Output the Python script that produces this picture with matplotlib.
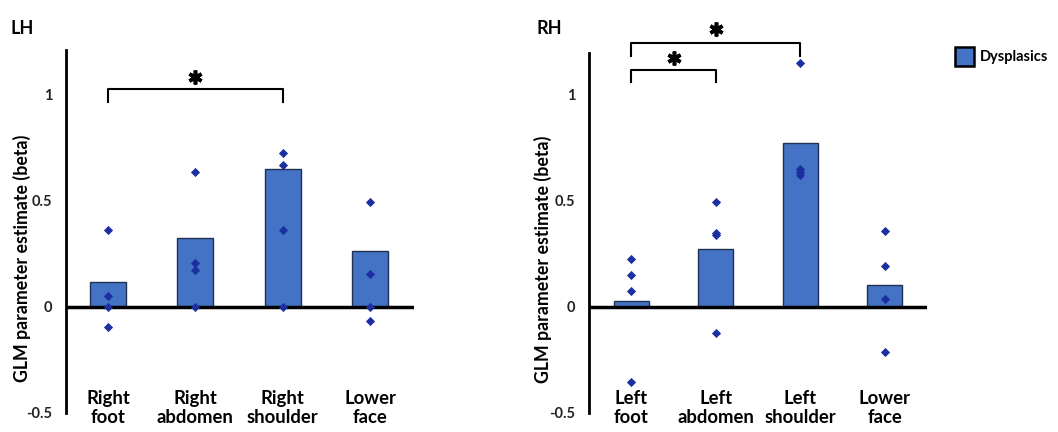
import matplotlib
matplotlib.use('Agg')
import matplotlib.pyplot as plt
from matplotlib.patches import Patch

plt.rcParams['font.family'] = ['Lato', 'DejaVu Sans']

# data
lh_labels = ['Right\nfoot', 'Right\nabdomen', 'Right\nshoulder', 'Lower\nface']
lh_means = [0.115, 0.324, 0.65, 0.264]
lh_points = [[0.363, 0.053, 0.0, -0.093],
             [0.635, 0.206, 0.175, 0.0],
             [0.725, 0.668, 0.36, 0.0],
             [0.494, 0.154, 0.0, -0.065]]

rh_labels = ['Left\nfoot', 'Left\nabdomen', 'Left\nshoulder', 'Lower\nface']
rh_means = [0.026, 0.275, 0.772, 0.104]
rh_points = [[0.225, 0.15, 0.077, -0.353],
             [0.497, 0.348, 0.34, -0.124],
             [1.15, 0.65, 0.623, 0.635],
             [0.36, 0.195, 0.04, -0.212]]

# brackets: (from, to, level, star level)
lh_sig = [(0, 2, 1.024, 1.085)]
rh_sig = [(0, 1, 1.12, 1.175), (0, 2, 1.244, 1.31)]

bar_col = '#4472C4'
edge_col = '#1F3050'
pt_col = '#1B2FA0'

fig = plt.figure(figsize=(10.58, 4.32), dpi=100)


def panel(rect, labels, means, points, sig, title, xlim, ytop, title_x, lab_x):
    ax = fig.add_axes(rect)
    x = list(range(len(labels)))
    ax.bar(x, means, width=0.41, color=bar_col, edgecolor=edge_col, linewidth=1.0, zorder=2)
    for i, pts in enumerate(points):
        ax.scatter([i] * len(pts), pts, marker='D', s=22, color=pt_col, zorder=4, linewidths=0)
    ax.axhline(0, color='black', linewidth=2.5, zorder=3)
    ax.set_xlim(*xlim)
    ax.set_ylim(-0.5, ytop)
    for s in ['top', 'right', 'bottom']:
        ax.spines[s].set_visible(False)
    ax.spines['left'].set_linewidth(2)
    ax.set_xticks([])
    ax.set_yticks([-0.5, 0, 0.5, 1])
    ax.set_yticklabels(['-0.5', '0', '0.5', '1'], fontsize=10.5, fontweight='bold', color='#222222')
    ax.tick_params(axis='y', length=0, pad=10)
    ax.set_ylabel('GLM parameter estimate (beta)', fontsize=12.8, fontweight='bold')
    ax.yaxis.set_label_coords(lab_x, 0.427)
    for i, lab in enumerate(labels):
        ax.text(i, -0.39, lab, ha='center', va='top', fontsize=13.3, fontweight='bold',
                linespacing=1.2, clip_on=False)
    for a, b, lev, star in sig:
        ax.plot([a, a, b, b], [lev - 0.06, lev, lev, lev - 0.06], color='black',
                linewidth=1.5, clip_on=False)
        ax.plot([(a + b) / 2], [star], marker=(6, 2, 0), markersize=10, mew=2.6,
                color='black', clip_on=False)
    fig.text(title_x, 1 - 29 / 432, title, fontsize=13, fontweight='bold', va='center')
    return ax


panel([66 / 1058, 19 / 432, 348 / 1058, 363 / 432], lh_labels, lh_means, lh_points, lh_sig,
      'LH', (-0.48, 3.5), 1.21, 11 / 1058, -0.1)
panel([589 / 1058, 19 / 432, 338 / 1058, 360 / 432], rh_labels, rh_means, rh_points, rh_sig,
      'RH', (-0.5, 3.5), 1.198, 537 / 1058, -0.11)

fig.legend(handles=[Patch(facecolor=bar_col, edgecolor='black', linewidth=1.8, label='Dysplasics')],
           loc='upper left', bbox_to_anchor=(942 / 1058, 1 - 34 / 432), frameon=False,
           handlelength=1.3, handleheight=1.6, handletextpad=0.4,
           prop={'size': 10.5, 'weight': 'bold'})

fig.savefig('out.png', dpi=100)
